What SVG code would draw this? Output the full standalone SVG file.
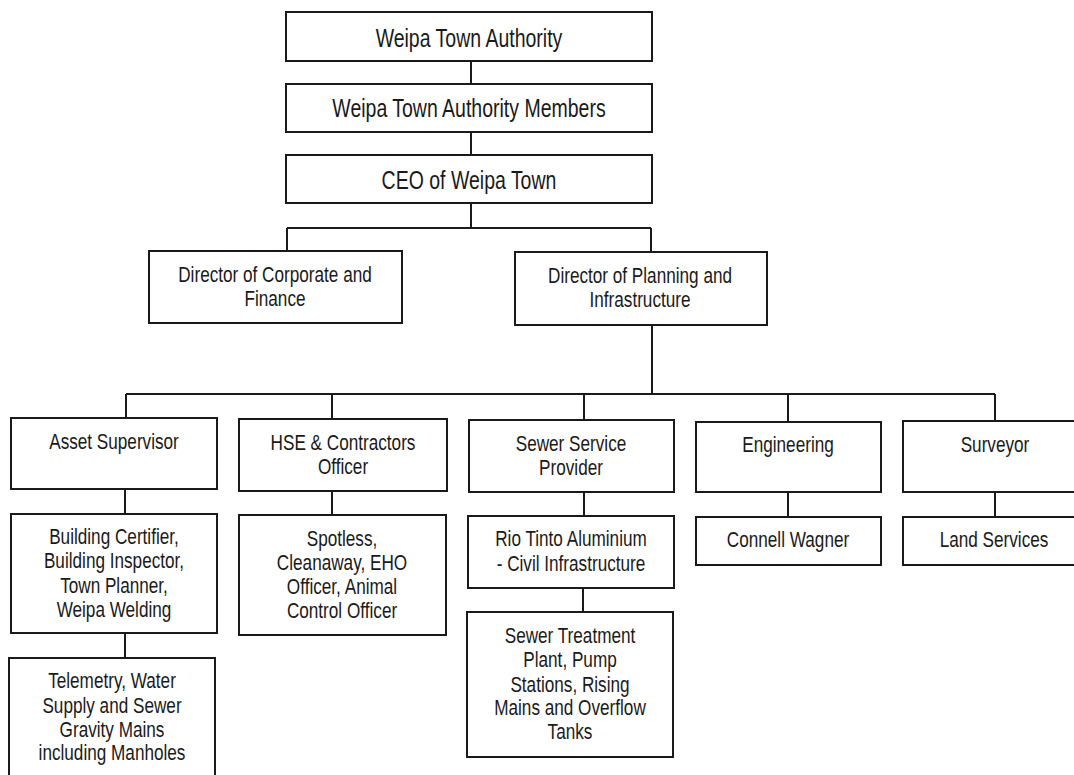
<svg xmlns="http://www.w3.org/2000/svg" width="1074" height="775" viewBox="0 0 1074 775">
<style>
.box{fill:#fff;stroke:#1a1a1a;stroke-width:2}
.ln{fill:none;stroke:#1a1a1a;stroke-width:2}
text{font-family:"Liberation Sans",Arial,sans-serif;fill:#1a1a1a;text-anchor:middle}
.big{font-size:25px}
.sm{font-size:22px}
</style>
<rect width="1074" height="775" fill="#fff"/>
<g id="connectors">
<path class="ln" d="M471 61V84M471 132V155M471 203V228M287 228H651M287 228V251M651 228V252"/>
<path class="ln" d="M652 325V394M126 394H995M126 394V418M332 394V419M584 394V420M788 394V422M995 394V421"/>
<path class="ln" d="M125 489V514M125 633V658M332 491V515M584 492V516M583 588V612M788 492V517M995 492V517"/>
</g>
<g id="n-authority"><rect class="box" x="286" y="12" width="366" height="49"/>
<text class="big" transform="translate(469,0) scale(0.78,1)"><tspan x="0" y="47">Weipa Town Authority</tspan></text></g>
<g id="n-members"><rect class="box" x="286" y="84" width="366" height="48"/>
<text class="big" transform="translate(469,0) scale(0.78,1)"><tspan x="0" y="117">Weipa Town Authority Members</tspan></text></g>
<g id="n-ceo"><rect class="box" x="286" y="155" width="366" height="48"/>
<text class="big" transform="translate(469,0) scale(0.78,1)"><tspan x="0" y="189">CEO of Weipa Town</tspan></text></g>
<g id="n-corp"><rect class="box" x="149" y="251" width="253" height="72"/>
<text class="sm" transform="translate(275,0) scale(0.78,1)"><tspan x="0" y="282">Director of Corporate and</tspan><tspan x="0" y="306">Finance</tspan></text></g>
<g id="n-plan"><rect class="box" x="515" y="252" width="252" height="73"/>
<text class="sm" transform="translate(640,0) scale(0.78,1)"><tspan x="0" y="283">Director of Planning and</tspan><tspan x="0" y="307">Infrastructure</tspan></text></g>
<g id="n-asset"><rect class="box" x="11" y="418" width="206" height="71"/>
<text class="sm" transform="translate(114,0) scale(0.78,1)"><tspan x="0" y="449">Asset Supervisor</tspan></text></g>
<g id="n-hse"><rect class="box" x="239" y="419" width="208" height="72"/>
<text class="sm" transform="translate(343,0) scale(0.78,1)"><tspan x="0" y="450">HSE &amp; Contractors</tspan><tspan x="0" y="474">Officer</tspan></text></g>
<g id="n-sewer"><rect class="box" x="469" y="420" width="205" height="72"/>
<text class="sm" transform="translate(571,0) scale(0.78,1)"><tspan x="0" y="451">Sewer Service</tspan><tspan x="0" y="475">Provider</tspan></text></g>
<g id="n-eng"><rect class="box" x="696" y="422" width="185" height="70"/>
<text class="sm" transform="translate(788,0) scale(0.78,1)"><tspan x="0" y="452">Engineering</tspan></text></g>
<g id="n-surveyor"><rect class="box" x="903" y="421" width="185" height="71"/>
<text class="sm" transform="translate(995,0) scale(0.78,1)"><tspan x="0" y="452">Surveyor</tspan></text></g>
<g id="n-building"><rect class="box" x="11" y="514" width="206" height="119"/>
<text class="sm" transform="translate(114,0) scale(0.78,1)"><tspan x="0" y="544">Building Certifier,</tspan><tspan x="0" y="568">Building Inspector,</tspan><tspan x="0" y="593">Town Planner,</tspan><tspan x="0" y="617">Weipa Welding</tspan></text></g>
<g id="n-telemetry"><rect class="box" x="9" y="658" width="206" height="140"/>
<text class="sm" transform="translate(112,0) scale(0.78,1)"><tspan x="0" y="688">Telemetry, Water</tspan><tspan x="0" y="713">Supply and Sewer</tspan><tspan x="0" y="737">Gravity Mains</tspan><tspan x="0" y="760">including Manholes</tspan></text></g>
<g id="n-spotless"><rect class="box" x="239" y="515" width="207" height="120"/>
<text class="sm" transform="translate(342,0) scale(0.78,1)"><tspan x="0" y="546">Spotless,</tspan><tspan x="0" y="570">Cleanaway, EHO</tspan><tspan x="0" y="594">Officer, Animal</tspan><tspan x="0" y="618">Control Officer</tspan></text></g>
<g id="n-rio"><rect class="box" x="468" y="516" width="206" height="72"/>
<text class="sm" transform="translate(571,0) scale(0.78,1)"><tspan x="0" y="546">Rio Tinto Aluminium</tspan><tspan x="0" y="571">- Civil Infrastructure</tspan></text></g>
<g id="n-treatment"><rect class="box" x="467" y="612" width="206" height="145"/>
<text class="sm" transform="translate(570,0) scale(0.78,1)"><tspan x="0" y="643">Sewer Treatment</tspan><tspan x="0" y="667">Plant, Pump</tspan><tspan x="0" y="692">Stations, Rising</tspan><tspan x="0" y="715">Mains and Overflow</tspan><tspan x="0" y="739">Tanks</tspan></text></g>
<g id="n-connell"><rect class="box" x="696" y="517" width="185" height="48"/>
<text class="sm" transform="translate(788,0) scale(0.78,1)"><tspan x="0" y="547">Connell Wagner</tspan></text></g>
<g id="n-land"><rect class="box" x="903" y="517" width="185" height="48"/>
<text class="sm" transform="translate(994,0) scale(0.78,1)"><tspan x="0" y="547">Land Services</tspan></text></g>
</svg>
